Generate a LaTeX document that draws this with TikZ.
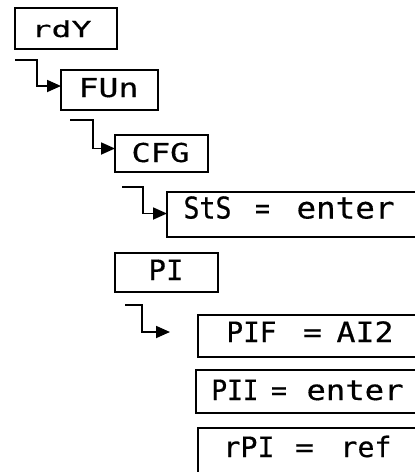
\documentclass[tikz,border=0pt]{standalone}
\usepackage{fontspec}
\usepackage{graphicx}
\newfontfamily\lcd[FakeBold=0.4]{DejaVu Sans Mono}
\usetikzlibrary{arrows.meta}
\newcommand\tk[2]{\resizebox{#1pt}{\height}{#2}}
\begin{document}
\begin{tikzpicture}[x=1pt,y=-1pt,
  box/.style={draw, line width=1.8pt, inner sep=0pt, outer sep=0pt, anchor=north west, rectangle},
  lbl/.style={inner sep=0pt, outer sep=0pt, anchor=base west},
  fsA/.style={font={\lcd\fontsize{22}{26}\selectfont}},
  fsB/.style={font={\lcd\fontsize{26}{30}\selectfont}},
  fsC/.style={font={\lcd\fontsize{28}{32}\selectfont}},
  fsD/.style={font={\lcd\fontsize{30}{34}\selectfont}},
  conn/.style={line width=1.8pt, -{Triangle[length=14pt,width=12pt]}}]
\useasboundingbox (0,0) rectangle (415,472);
\clip (0,0) rectangle (415,472);
% boxes
\node[box, minimum width=102pt, minimum height=41pt] (rdy) at (15,8) {};
\node[box, minimum width=97pt, minimum height=40pt] (fun) at (61,70) {};
\node[box, minimum width=93pt, minimum height=37pt] (cfg) at (115,135) {};
\node[box, minimum width=270pt, minimum height=45pt] (sts) at (167,192) {};
\node[box, minimum width=103pt, minimum height=39pt] (pi) at (115,253) {};
\node[box, minimum width=250pt, minimum height=42pt] (pif) at (198,315) {};
\node[box, minimum width=250pt, minimum height=43pt] (pii) at (196,370) {};
\node[box, minimum width=250pt, minimum height=70pt] (rpi) at (198,428) {};
% labels
\node[lbl,fsA] (trdy) at (31.5,37) {\tk{60}{rdY}};
\node[lbl,fsB] (tfun) at (78.5,97) {\tk{60}{FUn}};
\node[lbl,fsB] (tcfg) at (131.5,162) {\tk{58}{CFG}};
\node[lbl,fsD] (tsts1) at (183.5,218.5) {\tk{48}{StS}};
\node[lbl,fsD] (tsts2) at (255,218.5) {\tk{15}{=}};
\node[lbl,fsD] (tsts3) at (296.5,218.5) {\tk{98}{enter}};
\node[lbl,fsC] (tpi) at (148.5,280) {\tk{35}{PI}};
\node[lbl,fsC] (tpif1) at (226.5,342) {\tk{50}{PIF}};
\node[lbl,fsC] (tpif2) at (303,342) {\tk{19}{=}};
\node[lbl,fsC] (tpif3) at (336.5,342) {\tk{57}{AI2}};
\node[lbl,fsC] (tpii1) at (211.5,400) {\tk{47}{PII}};
\node[lbl,fsC] (tpii2) at (271,400) {\tk{16}{=}};
\node[lbl,fsC] (tpii3) at (306.5,400) {\tk{97}{enter}};
\node[lbl,fsC] (trpi1) at (223.5,457) {\tk{51}{rPI}};
\node[lbl,fsC] (trpi2) at (295,457) {\tk{19}{=}};
\node[lbl,fsC] (trpi3) at (340.5,457) {\tk{51}{ref}};
% connector start points
\coordinate (c1) at (15,60);
\coordinate (c2) at (70,120);
\coordinate (c3) at (122,187);
\coordinate (c4) at (125,305);
\coordinate (c4e) at (170,332);
\draw[conn] (c1) -- ++(22,0) |- ([yshift=4pt]fun.west);
\draw[conn] (c2) -- ++(23,0) |- ([yshift=5pt]cfg.west);
\draw[conn] (c3) -- ++(21,0) |- ([yshift=1pt]sts.west);
\draw[conn] (c4) -- ++(17,0) |- (c4e);
\end{tikzpicture}
\end{document}
